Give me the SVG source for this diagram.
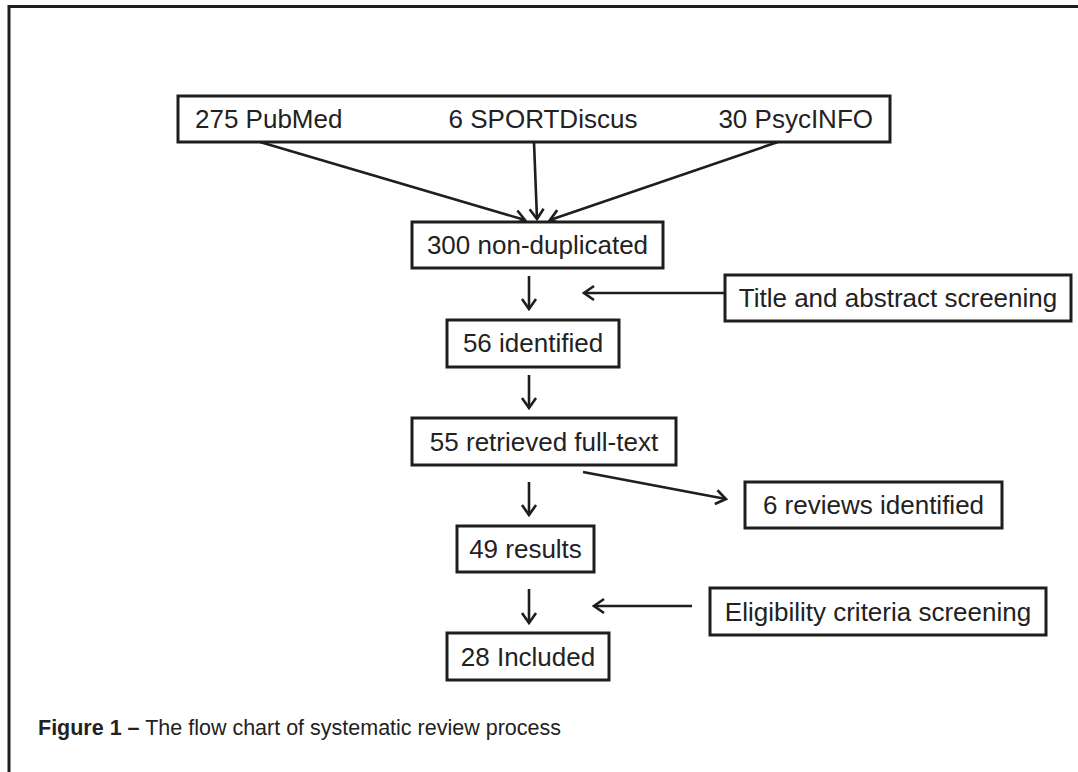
<svg xmlns="http://www.w3.org/2000/svg" width="1078" height="772" viewBox="0 0 1078 772">
<style>
.box{fill:#fff;stroke:#1e1e1e;stroke-width:3}
.t{font-family:"Liberation Sans",Arial,sans-serif;font-size:26px;fill:#222}
.c{text-anchor:middle}
.con{stroke:#1e1e1e;stroke-width:2.6;fill:none;marker-end:url(#ah)}
.cap{font-family:"Liberation Sans",Arial,sans-serif;font-size:21.5px;fill:#222}
</style>
<defs>
<marker id="ah" markerUnits="userSpaceOnUse" viewBox="-12 -9 14 18" refX="0" refY="0" markerWidth="14" markerHeight="18" orient="auto">
<path d="M-10,-7 L0,0 L-10,7" fill="none" stroke="#1e1e1e" stroke-width="2.6"/>
</marker>
</defs>
<rect width="1078" height="772" fill="#fff"/>
<path d="M9,772 V6.5 H1078" fill="none" stroke="#1e1e1e" stroke-width="3"/>
<g id="connectors">
<line class="con" x1="260" y1="142" x2="525" y2="220"/>
<line class="con" x1="534" y1="142" x2="537" y2="219"/>
<line class="con" x1="778" y1="142" x2="550" y2="220"/>
<line class="con" x1="529" y1="276" x2="529" y2="309"/>
<line class="con" x1="725" y1="293" x2="584" y2="293"/>
<line class="con" x1="529" y1="375" x2="529" y2="408"/>
<line class="con" x1="583" y1="472" x2="726" y2="499"/>
<line class="con" x1="529" y1="482" x2="529" y2="515"/>
<line class="con" x1="529" y1="589" x2="529" y2="623"/>
<line class="con" x1="692" y1="606" x2="594" y2="606"/>
</g>
<g id="sources">
<rect class="box" x="178" y="96" width="712" height="46"/>
<text class="t" x="195" y="128">275 PubMed</text>
<text class="t c" x="543" y="128">6 SPORTDiscus</text>
<text class="t" x="873" y="128" text-anchor="end">30 PsycINFO</text>
</g>
<g id="nondup">
<rect class="box" x="412" y="222" width="251" height="46"/>
<text class="t c" x="537.5" y="254">300 non-duplicated</text>
</g>
<g id="title-screen">
<rect class="box" x="725" y="275" width="346" height="46"/>
<text class="t c" x="898" y="307">Title and abstract screening</text>
</g>
<g id="identified">
<rect class="box" x="447" y="320" width="172" height="47"/>
<text class="t c" x="533" y="352">56 identified</text>
</g>
<g id="retrieved">
<rect class="box" x="412" y="418" width="264" height="47"/>
<text class="t c" x="544" y="451">55 retrieved full-text</text>
</g>
<g id="reviews">
<rect class="box" x="745" y="482" width="257" height="46"/>
<text class="t c" x="873.5" y="514">6 reviews identified</text>
</g>
<g id="results">
<rect class="box" x="457" y="526" width="137" height="46"/>
<text class="t c" x="525.5" y="558">49 results</text>
</g>
<g id="eligibility">
<rect class="box" x="710" y="588" width="336" height="47"/>
<text class="t c" x="878" y="621">Eligibility criteria screening</text>
</g>
<g id="included">
<rect class="box" x="447" y="633" width="162" height="47"/>
<text class="t c" x="528" y="666">28 Included</text>
</g>
<text class="cap" x="38" y="735"><tspan font-weight="bold">Figure 1 –</tspan> The flow chart of systematic review process</text>
</svg>
